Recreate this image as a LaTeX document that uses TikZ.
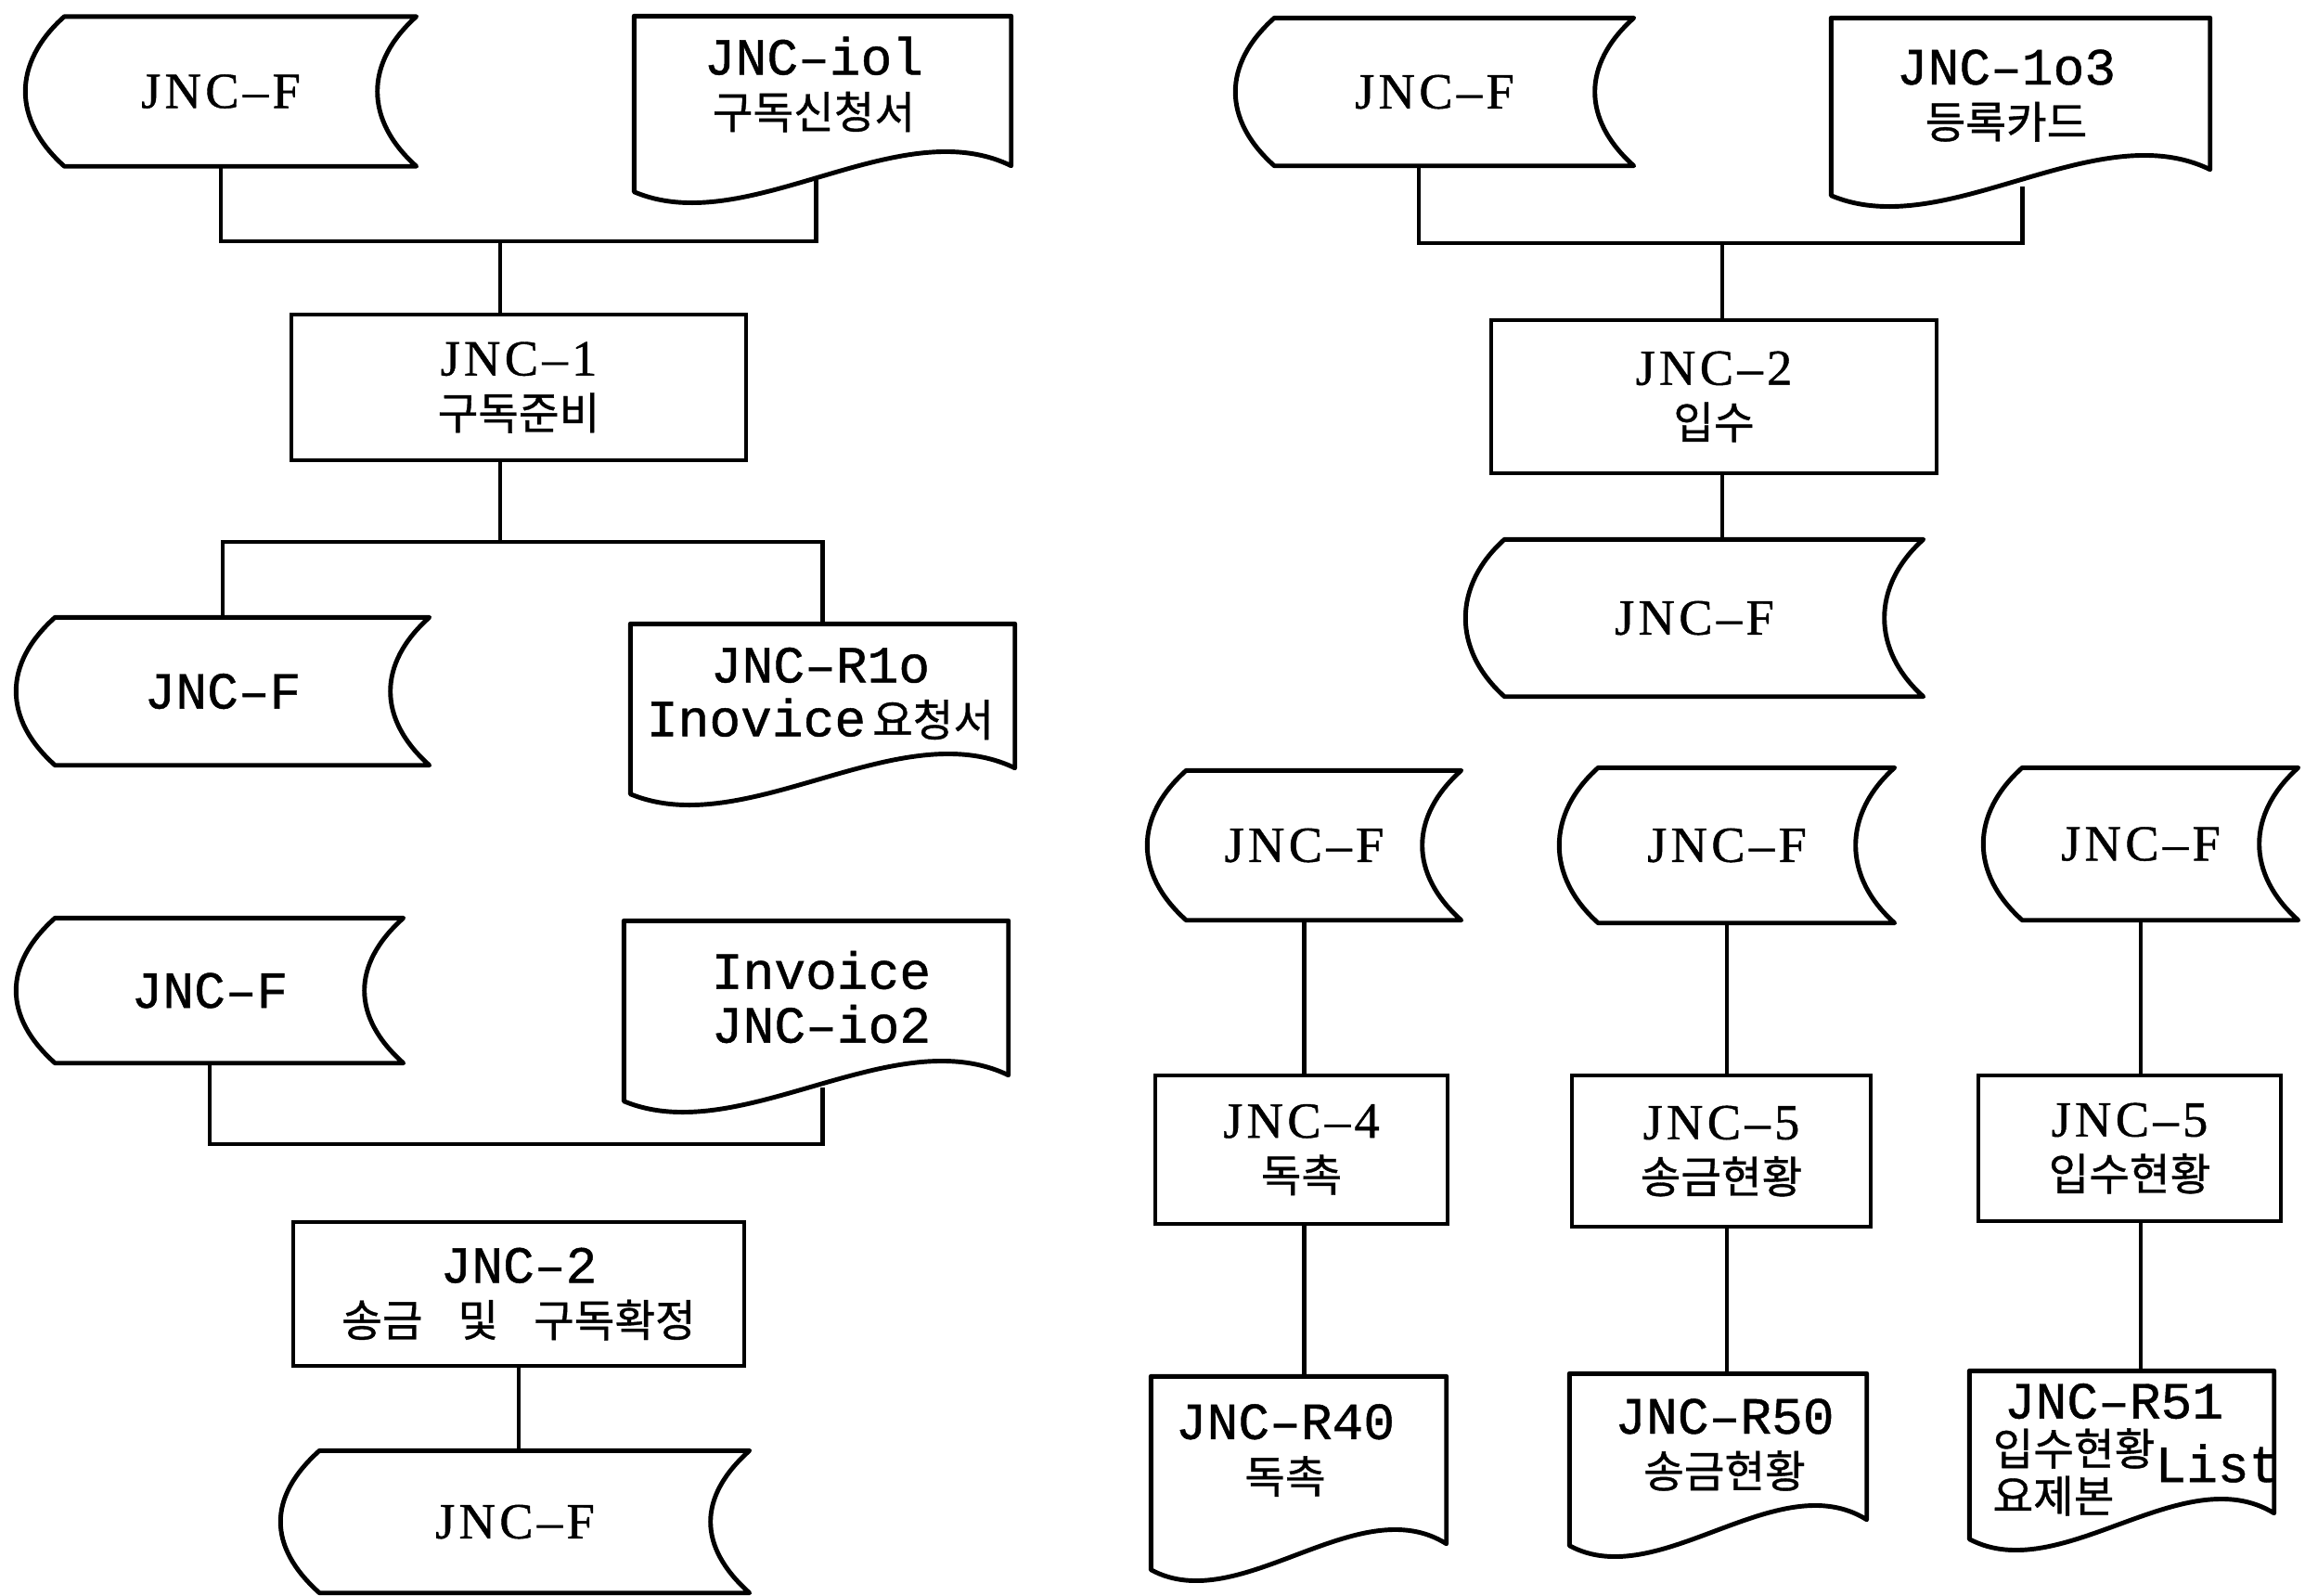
\documentclass[tikz,border=0pt]{standalone}
\usepackage{fontspec}
\usepackage{tikz}
\usetikzlibrary{calc}
\newfontfamily\jncm[FakeBold=0.8]{Liberation Mono}
\newfontfamily\jncs[LetterSpace=8, FakeBold=0.8]{Liberation Serif}
\newfontfamily\krfont[FakeBold=0.8]{Noto Sans CJK KR}
\newcommand{\krtxt}{\krfont\fontsize{13.5}{16.5}\selectfont}

\begin{document}
\begin{tikzpicture}[
  outline/.style={line width=1.4pt, line join=round},
  wire/.style={line width=1.2pt},
  sertxt/.style={font=\jncs\fontsize{15.5}{16.5}\selectfont},
  monotxt/.style={font=\jncm\fontsize{16}{16.5}\selectfont},
  store/.style={sertxt, minimum width=#1, minimum height=1.6cm, inner sep=0pt,
    append after command={\pgfextra{
      \draw[outline] ([xshift=4.2mm]\tikzlastnode.north west) -- (\tikzlastnode.north east)
        .. controls +(-5.6mm,-5mm) and +(-5.6mm,5mm) .. (\tikzlastnode.south east)
        -- ([xshift=4.2mm]\tikzlastnode.south west)
        .. controls +(-5.6mm,5mm) and +(-5.6mm,-5mm) .. ([xshift=4.2mm]\tikzlastnode.north west)
        -- cycle;}}},
  box/.style={sertxt, draw, line width=1.4pt, minimum width=#1, minimum height=1.6cm,
    inner sep=0pt, align=center},
  doc/.style={minimum width=#1, minimum height=2cm, inner sep=0pt,
    append after command={\pgfextra{
      \draw[outline] ([yshift=1.2mm]\tikzlastnode.south west) -- (\tikzlastnode.north west)
        -- (\tikzlastnode.north east) -- ([yshift=4mm]\tikzlastnode.south east)
        .. controls ($(\tikzlastnode.south east)!0.3!(\tikzlastnode.south west)+(0,10mm)$)
        and ($(\tikzlastnode.south west)!0.3!(\tikzlastnode.south east)+(0,-4mm)$)
        .. ([yshift=1.2mm]\tikzlastnode.south west) -- cycle;}}},
  doctext/.style={monotxt, align=center, inner sep=0pt}
]
  \useasboundingbox (0,0) rectangle (24.84,-17.19);

  % left column: subscription
  \node[store=4.2cm] (fA) at (2.38,-0.985) {JNC–F};
  \node[doc=4.05cm] (dIol) at (8.865,-1.18) {};
  \node[doctext] (tIol) at (8.77,-0.91) {JNC–iol\\{\krtxt 구독신청서}};

  \node[box=4.9cm, minimum height=1.57cm] (k1) at (5.59,-4.175) {JNC–1\\{\krtxt 구독준비}};

  \node[store=4.44cm, minimum height=1.58cm, monotxt] (fB) at (2.40,-7.45) {JNC–F};
  \node[doc=4.13cm, minimum height=1.94cm] (dR1o) at (8.865,-7.70) {};
  \node[doctext] (tR1o) at (8.84,-7.475) {JNC–R1o\\Inovice\hspace{2pt}{\krtxt 요청서}};

  \node[store=4.16cm, minimum height=1.55cm, monotxt] (fC) at (2.26,-10.675) {JNC–F};
  \node[doc=4.13cm, minimum height=2.05cm] (dInv) at (8.795,-10.955) {};
  \node[doctext] (tInv) at (8.85,-10.745) {Invoice\\JNC–io2};

  \node[box=4.86cm, minimum height=1.55cm, monotxt] (k2) at (5.59,-13.945)
    {JNC–2\\{\krtxt 송금\hspace{0.8em}및\hspace{0.8em}구독확정}};
  \node[store=5.04cm, minimum height=1.52cm] (fD) at (5.55,-16.40) {JNC–F};

  % right column: receipt
  \node[store=4.28cm, minimum height=1.58cm] (fE) at (15.46,-0.99) {JNC–F};
  \node[doc=4.07cm, minimum height=2.02cm] (dIo3) at (21.775,-1.21) {};
  \node[doctext] (tIo3) at (21.62,-1.03) {JNC–1o3\\{\krtxt 등록카드}};

  \node[box=4.8cm, minimum height=1.65cm] (k3) at (18.47,-4.275) {JNC–2\\{\krtxt 입수}};
  \node[store=4.92cm, minimum height=1.68cm] (fG) at (18.26,-6.66) {JNC–F};

  % reports
  \node[store=3.37cm] (fH1) at (14.055,-9.11) {JNC–F};
  \node[store=3.6cm, minimum height=1.66cm] (fH2) at (18.61,-9.11) {JNC–F};
  \node[store=3.38cm, minimum height=1.63cm] (fH3) at (23.07,-9.095) {JNC–F};

  \node[box=3.15cm] (k4) at (14.025,-12.39) {JNC–4\\{\krtxt 독촉}};
  \node[box=3.22cm, minimum height=1.63cm] (k5) at (18.55,-12.405) {JNC–5\\{\krtxt 송금현황}};
  \node[box=3.26cm, minimum height=1.57cm] (k6) at (22.95,-12.375) {JNC–5\\{\krtxt 입수현황}};

  \node[doc=3.17cm, minimum height=2.19cm] (dR40) at (13.995,-15.935) {};
  \node[doctext] (tR40) at (13.85,-15.63) {JNC–R40\\{\krtxt 독촉}};
  \node[doc=3.19cm, minimum height=1.96cm] (dR50) at (18.515,-15.79) {};
  \node[doctext] (tR50) at (18.585,-15.57) {JNC–R50\\{\krtxt 송금현황}};
  \node[doc=3.27cm, minimum height=1.92cm] (dR51) at (22.865,-15.74) {};
  \node[doctext] (tR51) at (22.78,-15.10) {JNC–R51};
  \node[inner sep=0pt, font=\krtxt] (tR51k) at (22.35,-15.61) {입수현황};
  \node[doctext] (tR51l) at (23.90,-15.77) {List};
  \node[inner sep=0pt, font=\krtxt] (tR51y) at (22.13,-16.12) {요제본};

  % wires
  \coordinate (jA) at (5.39,-2.60);
  \coordinate (jB) at (5.39,-5.84);
  \coordinate (jC) at (5.50,-12.33);
  \coordinate (jE) at (18.56,-2.62);

  \draw[wire] (fA.south) |- (jA) -| ($(dIol.south)+(-0.07,0.25)$);
  \draw[wire] (jA) -- (jA |- k1.north);
  \draw[wire] (jB |- k1.south) -- (jB);
  \draw[wire] (fB.north) |- (jB) -| (dR1o.north);
  \draw[wire] (fC.south) |- (jC) -| ($(dInv.south)+(0.07,0.27)$);
  \draw[wire] (k2.south) -- (k2.south |- fD.north);

  \draw[wire] ([xshift=-1.7mm]fE.south) |- (jE) -| ($(dIo3.south)+(0.02,0.22)$);
  \draw[wire] (jE) -- (jE |- k3.north);
  \draw[wire] (jE |- k3.south) -- (jE |- fG.north);

  \draw[wire] (fH1.south) -- (fH1.south |- k4.north);
  \draw[wire] (fH1.south |- k4.south) -- (fH1.south |- dR40.north);
  \draw[wire] (fH2.south) -- (fH2.south |- k5.north);
  \draw[wire] (fH2.south |- k5.south) -- (fH2.south |- dR50.north);
  \draw[wire] (fH3.south) -- (fH3.south |- k6.north);
  \draw[wire] (fH3.south |- k6.south) -- (fH3.south |- dR51.north);
\end{tikzpicture}
\end{document}
